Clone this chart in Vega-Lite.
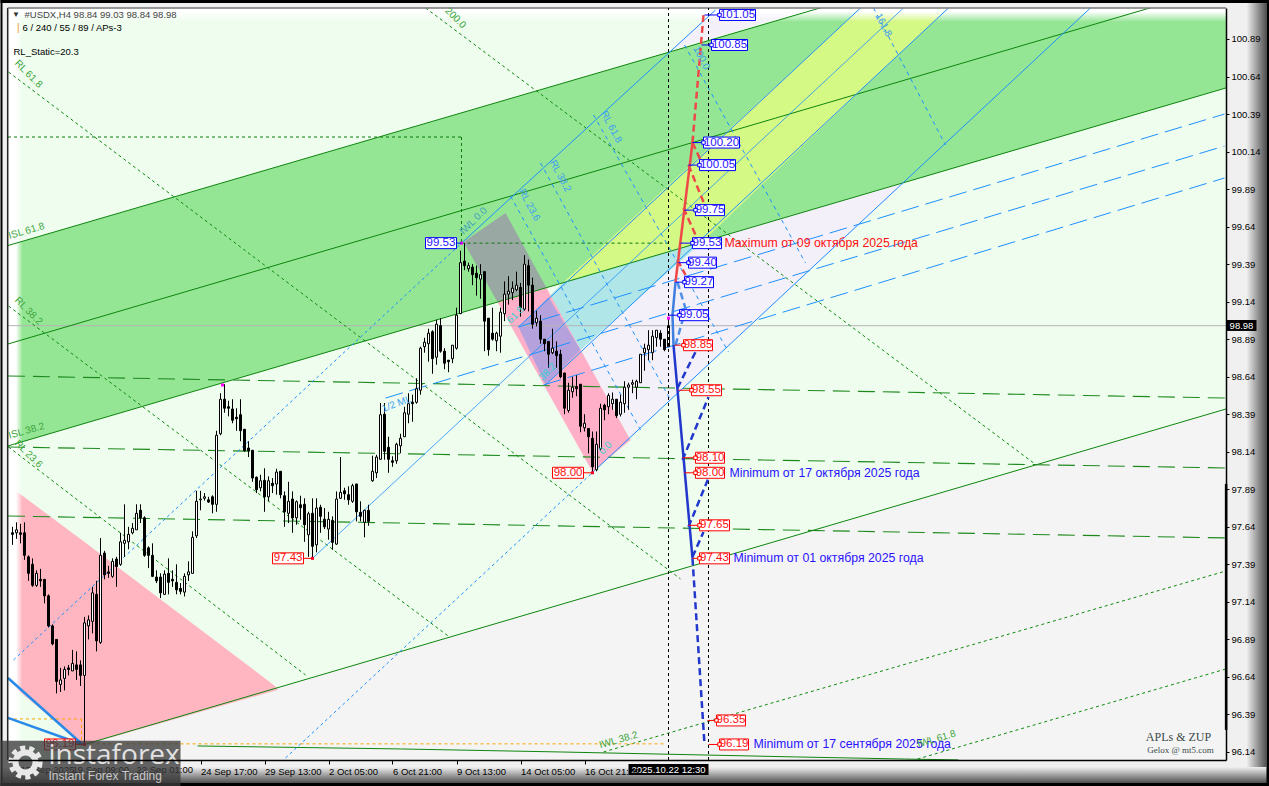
{"$schema":"https://vega.github.io/schema/vega-lite/v6.json","width":1218,"height":752,"autosize":"none","padding":{"left":8,"top":8,"right":43,"bottom":26},"background":"#f0f0f0","view":{"fill":"#eefdee","stroke":null},
"config":{"font":"Liberation Sans"},
"datasets":{
"frame":[{"g":"blk","x":0,"x2":0.5,"p":95.914,"p2":101.15},{"g":"blk","x":316.5,"x2":317.25,"p":95.914,"p2":101.15},{"g":"blk","x":0,"x2":317.25,"p":101.13,"p2":101.15},{"g":"blk","x":0,"x2":317.25,"p":95.914,"p2":95.934}],
"grads":[{"g":"r","x":311.5,"x2":316.5,"p":95.914,"p2":101.15}],
"gradb":[{"x":0,"x2":317.25,"p":95.934,"p2":96.04}],
"fadel":[{"x":1.875,"x2":5.5,"p":96.0865,"p2":101.0965}],
"fadet":[{"x":1.875,"x2":306.375,"p":101.003,"p2":101.0965}],
"areas":[
{"g":"green","x":1.875,"p":99.514,"p2":98.179},{"g":"green","x":306.5,"p":101.889,"p2":100.564},
{"g":"grey","x":21,"p":96.19,"p2":96.0865},{"g":"grey","x":306.5,"p":98.425,"p2":96.0865},
{"g":"pinktri","x":1.875,"p":97.919,"p2":96.606},{"g":"pinktri","x":21,"p":97.539,"p2":96.187},{"g":"pinktri","x":69.25,"p":96.567,"p2":96.553},
{"g":"lavtop","x":167.5,"p":100.817,"p2":100.817},{"g":"lavtop","x":179.25,"p":101.097,"p2":100.909},{"g":"lavtop","x":203.75,"p":101.097,"p2":101.097},
{"g":"lav","x":145,"p":98.818,"p2":98.818},{"g":"lav","x":157.5,"p":99.114,"p2":98.232},{"g":"lav","x":175.5,"p":99.54,"p2":98.679},{"g":"lav","x":226.25,"p":99.937,"p2":99.937},
{"g":"cyan","x":137,"p":99.171,"p2":99.171},{"g":"cyan","x":140.75,"p":99.271,"p2":99.005},{"g":"cyan","x":145,"p":99.3,"p2":98.818},{"g":"cyan","x":175.5,"p":99.54,"p2":99.54},
{"g":"yellow","x":140.75,"p":99.271,"p2":99.271},{"g":"yellow","x":175.5,"p":100.125,"p2":99.54},{"g":"yellow","x":215,"p":101.097,"p2":100.546},{"g":"yellow","x":237,"p":101.097,"p2":101.097},
{"g":"pink","x":124.25,"p":99.138,"p2":99.138},{"g":"pink","x":136.5,"p":99.231,"p2":98.554},{"g":"pink","x":148,"p":98.677,"p2":98.005},{"g":"pink","x":157.5,"p":98.219,"p2":98.219},
{"g":"boxgrey","x":115.75,"p":99.538,"p2":99.538},{"g":"boxgrey","x":124.25,"p":99.694,"p2":99.138},{"g":"boxgrey","x":126.25,"p":99.731,"p2":99.153},{"g":"boxgrey","x":136.5,"p":99.231,"p2":99.231},
{"g":"purple","x":129.5,"p":98.972,"p2":98.972},{"g":"purple","x":136.25,"p":99.151,"p2":98.585},{"g":"purple","x":137,"p":99.171,"p2":98.605},{"g":"purple","x":145,"p":98.818,"p2":98.818}
],
"lines":[
{"s":"g","id":"u","x":1.875,"p":99.514},{"s":"g","id":"u","x":306.5,"p":101.889},
{"s":"g","id":"l","x":1.875,"p":98.179},{"s":"g","id":"l","x":306.375,"p":100.564},
{"s":"g","id":"m","x":1.875,"p":98.858},{"s":"g","id":"m","x":306.5,"p":101.247},
{"s":"g","id":"b","x":21,"p":96.19},{"s":"g","id":"b","x":306.375,"p":98.425},
{"s":"g","id":"c","x":49.25,"p":96.18},{"s":"g","id":"c","x":100,"p":96.16},{"s":"g","id":"c","x":140,"p":96.14},{"s":"g","id":"c","x":198.75,"p":96.107},{"s":"g","id":"c","x":226,"p":96.093},{"s":"g","id":"c","x":239.5,"p":96.087},
{"s":"gl","id":"1","x":1.875,"p":98.645},{"s":"gl","id":"1","x":306.375,"p":98.498},
{"s":"gl","id":"2","x":1.875,"p":98.172},{"s":"gl","id":"2","x":306.375,"p":98.032},
{"s":"gl","id":"3","x":1.875,"p":97.712},{"s":"gl","id":"3","x":306.375,"p":97.566},
{"s":"gs","id":"a","x":1.875,"p":100.237},{"s":"gs","id":"a","x":115.25,"p":100.237},
{"s":"gs","id":"v","x":115.25,"p":100.237},{"s":"gs","id":"v","x":115.25,"p":99.53},
{"s":"gs","id":"b","x":115.25,"p":99.53},{"s":"gs","id":"b","x":167,"p":99.53},
{"s":"gd","id":"1","x":2,"p":100.67},{"s":"gd","id":"1","x":170,"p":97.293},
{"s":"gd","id":"2","x":2,"p":99.111},{"s":"gd","id":"2","x":112.25,"p":96.906},
{"s":"gd","id":"3","x":2,"p":98.172},{"s":"gd","id":"3","x":76.25,"p":96.653},
{"s":"gd","id":"4","x":106.25,"p":101.097},{"s":"gd","id":"4","x":258.25,"p":98.066},
{"s":"gd","id":"5","x":150.75,"p":96.14},{"s":"gd","id":"5","x":306.375,"p":97.346},
{"s":"gd","id":"6","x":229.25,"p":96.093},{"s":"gd","id":"6","x":306.375,"p":96.693},
{"s":"b","id":"A","x":115.25,"p":99.53},{"s":"b","id":"A","x":178.75,"p":101.083},
{"s":"b","id":"B","x":129.5,"p":98.972},{"s":"b","id":"B","x":215,"p":101.097},
{"s":"bt","id":"C","x":78,"p":97.43},{"s":"bt","id":"C","x":225.75,"p":101.097},
{"s":"b","id":"D","x":136.25,"p":98.585},{"s":"b","id":"D","x":237,"p":101.097},
{"s":"b","id":"E","x":149.5,"p":98.039},{"s":"b","id":"E","x":272.5,"p":101.097},
{"s":"bd","id":"1","x":3.25,"p":96.753},{"s":"bd","id":"1","x":115.25,"p":99.53},
{"s":"bd","id":"2","x":71.25,"p":96.1},{"s":"bd","id":"2","x":149.5,"p":98.039},
{"s":"bl","id":"1","x":129.5,"p":98.972},{"s":"bl","id":"1","x":306,"p":100.39},
{"s":"bl","id":"2","x":96.25,"p":98.498},{"s":"bl","id":"2","x":306,"p":100.177},
{"s":"bl","id":"3","x":135.75,"p":98.585},{"s":"bl","id":"3","x":306,"p":99.964},
{"s":"bf","id":"1","x":127.5,"p":99.844},{"s":"bf","id":"1","x":160,"p":98.285},
{"s":"bf","id":"2","x":135,"p":100.064},{"s":"bf","id":"2","x":167.5,"p":98.485},
{"s":"bf","id":"3","x":148.25,"p":100.384},{"s":"bf","id":"3","x":182,"p":98.805},
{"s":"bf","id":"4","x":171,"p":100.85},{"s":"bf","id":"4","x":201.25,"p":99.398},
{"s":"bf","id":"5","x":218.25,"p":101.097},{"s":"bf","id":"5","x":236.25,"p":100.184},
{"s":"o","id":"1","x":1.875,"p":96.36},{"s":"o","id":"1","x":20.25,"p":96.36},
{"s":"o","id":"2","x":20.25,"p":96.36},{"s":"o","id":"2","x":20.25,"p":96.19},
{"s":"o","id":"3","x":21,"p":96.194},{"s":"o","id":"3","x":166,"p":96.194},
{"s":"tb","id":"1","x":1.875,"p":96.633},{"s":"tb","id":"1","x":20.5,"p":96.19},
{"s":"tb","id":"2","x":1.875,"p":96.367},{"s":"tb","id":"2","x":20.5,"p":96.19},
{"s":"gp","id":"1","x":1.875,"p":98.98},{"s":"gp","id":"1","x":306.375,"p":98.98},
{"s":"ax","id":"1","x":306.4,"p":97.926},{"s":"ax","id":"1","x":306.4,"p":96.287},
{"s":"fl","id":"1","x":1.8,"p":96.0865},{"s":"fl","id":"1","x":1.8,"p":101.0965},
{"s":"ft","id":"1","x":1.8,"p":101.0965},{"s":"ft","id":"1","x":306.375,"p":101.0965}
],
"vert":[{"s":"v","id":"1","x":167,"p":96.0865},{"s":"v","id":"1","x":167,"p":101.0965},{"s":"v","id":"2","x":177,"p":96.0865},{"s":"v","id":"2","x":177,"p":101.0965}],
"zig":[
{"s":"r","id":"1","x":168.75,"p":99.27},{"s":"r","id":"1","x":173,"p":100.2},
{"s":"rd","id":"1","x":173,"p":100.2},{"s":"rd","id":"1","x":175.75,"p":101.05},
{"s":"rd","id":"2","x":173,"p":100.2},{"s":"rd","id":"2","x":175,"p":100.084},
{"s":"rd","id":"3","x":172,"p":100.05},{"s":"rd","id":"3","x":175.75,"p":99.804},
{"s":"rd","id":"4","x":170.75,"p":99.764},{"s":"rd","id":"4","x":173.75,"p":99.585},
{"s":"rd","id":"5","x":169.25,"p":99.418},{"s":"rd","id":"5","x":171.25,"p":99.318},
{"s":"lb","id":"1","x":168.75,"p":99.27},{"s":"lb","id":"1","x":168,"p":99.05},{"s":"lb","id":"1","x":168.25,"p":98.85},
{"s":"lbd","id":"1","x":168.75,"p":98.85},{"s":"lbd","id":"1","x":171.25,"p":99.085},
{"s":"lbd","id":"2","x":169.25,"p":99.27},{"s":"lbd","id":"2","x":171.75,"p":99.05},
{"s":"db","id":"1","x":168.25,"p":98.85},{"s":"db","id":"1","x":173,"p":97.43},
{"s":"dbd","id":"1","x":173,"p":97.43},{"s":"dbd","id":"1","x":176,"p":96.19},
{"s":"dbd","id":"2","x":169.25,"p":98.565},{"s":"dbd","id":"2","x":173.75,"p":98.805},
{"s":"dbd","id":"3","x":170.5,"p":98.085},{"s":"dbd","id":"3","x":177,"p":98.505},
{"s":"dbd","id":"4","x":172,"p":97.64},{"s":"dbd","id":"4","x":177,"p":97.965},
{"s":"dbd","id":"5","x":173,"p":97.44},{"s":"dbd","id":"5","x":175.75,"p":97.606}
],
"candles":[
{"x":3,"o":97.6,"h":97.64,"l":97.52,"c":97.59},{"x":4,"o":97.6,"h":97.67,"l":97.56,"c":97.62},{"x":5,"o":97.6,"h":97.66,"l":97.53,"c":97.59},{"x":6,"o":97.6,"h":97.67,"l":97.42,"c":97.45},{"x":7,"o":97.44,"h":97.45,"l":97.28,"c":97.33},{"x":8,"o":97.39,"h":97.43,"l":97.24,"c":97.25},{"x":9,"o":97.25,"h":97.35,"l":97.24,"c":97.33},{"x":10,"o":97.29,"h":97.36,"l":97.24,"c":97.28},{"x":11,"o":97.29,"h":97.29,"l":97.13,"c":97.18},{"x":12,"o":97.18,"h":97.19,"l":96.97,"c":96.98},
{"x":13,"o":96.98,"h":96.99,"l":96.85,"c":96.86},{"x":14,"o":96.89,"h":96.89,"l":96.53,"c":96.61},{"x":15,"o":96.59,"h":96.7,"l":96.54,"c":96.62},{"x":16,"o":96.63,"h":96.71,"l":96.55,"c":96.69},{"x":17,"o":96.7,"h":96.72,"l":96.65,"c":96.69},{"x":18,"o":96.68,"h":96.82,"l":96.68,"c":96.73},{"x":19,"o":96.72,"h":96.81,"l":96.62,"c":96.69},{"x":20,"o":96.72,"h":96.75,"l":96.58,"c":96.65},{"x":21,"o":96.65,"h":97.04,"l":96.19,"c":97.0},{"x":22,"o":96.98,"h":97.05,"l":96.89,"c":97.02},
{"x":23,"o":97.01,"h":97.24,"l":96.93,"c":97.2},{"x":24,"o":97.19,"h":97.28,"l":96.81,"c":96.88},{"x":25,"o":96.87,"h":97.565,"l":96.86,"c":97.45},{"x":26,"o":97.465,"h":97.48,"l":97.29,"c":97.32},{"x":27,"o":97.34,"h":97.38,"l":97.3,"c":97.33},{"x":28,"o":97.31,"h":97.43,"l":97.3,"c":97.41},{"x":29,"o":97.425,"h":97.44,"l":97.24,"c":97.375},{"x":30,"o":97.39,"h":97.6,"l":97.38,"c":97.54},{"x":31,"o":97.53,"h":97.79,"l":97.44,"c":97.55},{"x":32,"o":97.54,"h":97.64,"l":97.49,"c":97.59},
{"x":33,"o":97.6,"h":97.665,"l":97.59,"c":97.63},{"x":34,"o":97.62,"h":97.79,"l":97.62,"c":97.73},{"x":35,"o":97.75,"h":97.79,"l":97.665,"c":97.7},{"x":36,"o":97.7,"h":97.71,"l":97.44,"c":97.45},{"x":37,"o":97.5,"h":97.51,"l":97.365,"c":97.45},{"x":38,"o":97.45,"h":97.53,"l":97.305,"c":97.31},{"x":39,"o":97.305,"h":97.35,"l":97.265,"c":97.28},{"x":40,"o":97.305,"h":97.33,"l":97.165,"c":97.2},{"x":41,"o":97.19,"h":97.35,"l":97.19,"c":97.325},{"x":42,"o":97.33,"h":97.43,"l":97.19,"c":97.27},
{"x":43,"o":97.29,"h":97.35,"l":97.24,"c":97.28},{"x":44,"o":97.27,"h":97.39,"l":97.19,"c":97.22},{"x":45,"o":97.23,"h":97.265,"l":97.19,"c":97.21},{"x":46,"o":97.205,"h":97.33,"l":97.176,"c":97.31},{"x":47,"o":97.32,"h":97.41,"l":97.28,"c":97.34},{"x":48,"o":97.33,"h":97.61,"l":97.33,"c":97.57},{"x":49,"o":97.58,"h":97.88,"l":97.565,"c":97.81},{"x":50,"o":97.82,"h":97.88,"l":97.75,"c":97.825},{"x":51,"o":97.83,"h":97.865,"l":97.815,"c":97.84},{"x":52,"o":97.82,"h":97.84,"l":97.8,"c":97.805},
{"x":53,"o":97.84,"h":97.85,"l":97.73,"c":97.79},{"x":54,"o":97.79,"h":98.28,"l":97.74,"c":98.25},{"x":55,"o":98.26,"h":98.53,"l":98.25,"c":98.49},{"x":56,"o":98.49,"h":98.59,"l":98.4,"c":98.43},{"x":57,"o":98.44,"h":98.48,"l":98.376,"c":98.43},{"x":58,"o":98.425,"h":98.49,"l":98.33,"c":98.35},{"x":59,"o":98.37,"h":98.43,"l":98.28,"c":98.36},{"x":60,"o":98.387,"h":98.49,"l":98.21,"c":98.28},{"x":61,"o":98.29,"h":98.29,"l":98.14,"c":98.147},{"x":62,"o":98.165,"h":98.21,"l":98.105,"c":98.147},
{"x":63,"o":98.15,"h":98.15,"l":97.94,"c":97.965},{"x":64,"o":97.97,"h":97.976,"l":97.865,"c":97.887},{"x":65,"o":97.9,"h":97.987,"l":97.876,"c":97.947},{"x":66,"o":97.95,"h":98.03,"l":97.74,"c":97.84},{"x":67,"o":97.84,"h":97.976,"l":97.81,"c":97.947},{"x":68,"o":97.93,"h":97.965,"l":97.865,"c":97.914},{"x":69,"o":97.925,"h":98.027,"l":97.854,"c":98.005},{"x":70,"o":98.01,"h":98.01,"l":97.83,"c":97.854},{"x":71,"o":97.847,"h":97.876,"l":97.64,"c":97.74},{"x":72,"o":97.73,"h":97.94,"l":97.665,"c":97.81},
{"x":73,"o":97.825,"h":97.876,"l":97.6,"c":97.7},{"x":74,"o":97.7,"h":97.816,"l":97.654,"c":97.807},{"x":75,"o":97.787,"h":97.847,"l":97.687,"c":97.767},{"x":76,"o":97.79,"h":97.83,"l":97.54,"c":97.654},{"x":77,"o":97.587,"h":97.74,"l":97.44,"c":97.727},{"x":78,"o":97.73,"h":97.83,"l":97.43,"c":97.51},{"x":79,"o":97.52,"h":97.83,"l":97.47,"c":97.765},{"x":80,"o":97.77,"h":97.787,"l":97.6,"c":97.71},{"x":81,"o":97.69,"h":97.765,"l":97.625,"c":97.64},{"x":82,"o":97.625,"h":97.74,"l":97.554,"c":97.69},
{"x":83,"o":97.683,"h":97.71,"l":97.487,"c":97.536},{"x":84,"o":97.525,"h":97.876,"l":97.52,"c":97.825},{"x":85,"o":97.83,"h":98.105,"l":97.825,"c":97.87},{"x":86,"o":97.88,"h":97.9,"l":97.82,"c":97.86},{"x":87,"o":97.854,"h":97.91,"l":97.787,"c":97.82},{"x":88,"o":97.81,"h":97.927,"l":97.8,"c":97.914},{"x":89,"o":97.925,"h":97.927,"l":97.676,"c":97.74},{"x":90,"o":97.736,"h":97.81,"l":97.676,"c":97.71},{"x":91,"o":97.67,"h":97.754,"l":97.57,"c":97.75},{"x":92,"o":97.75,"h":97.787,"l":97.647,"c":97.676},
{"x":93,"o":97.947,"h":98.114,"l":97.94,"c":98.01},{"x":94,"o":98.0,"h":98.12,"l":97.965,"c":98.105},{"x":95,"o":98.09,"h":98.465,"l":98.087,"c":98.387},{"x":96,"o":98.39,"h":98.465,"l":98.087,"c":98.143},{"x":97,"o":98.17,"h":98.24,"l":98.0,"c":98.09},{"x":98,"o":98.08,"h":98.11,"l":98.04,"c":98.07},{"x":99,"o":98.08,"h":98.2,"l":98.06,"c":98.19},{"x":100,"o":98.18,"h":98.26,"l":98.13,"c":98.23},{"x":101,"o":98.24,"h":98.44,"l":98.24,"c":98.4},{"x":102,"o":98.39,"h":98.53,"l":98.33,"c":98.46},
{"x":103,"o":98.47,"h":98.52,"l":98.34,"c":98.46},{"x":104,"o":98.47,"h":98.63,"l":98.46,"c":98.56},{"x":105,"o":98.55,"h":98.84,"l":98.52,"c":98.83},{"x":106,"o":98.84,"h":98.9,"l":98.8,"c":98.87},{"x":107,"o":98.86,"h":98.96,"l":98.74,"c":98.93},{"x":108,"o":98.94,"h":98.95,"l":98.66,"c":98.76},{"x":109,"o":98.77,"h":99.02,"l":98.72,"c":98.99},{"x":110,"o":98.98,"h":99.03,"l":98.8,"c":98.81},{"x":111,"o":98.81,"h":98.83,"l":98.69,"c":98.73},{"x":112,"o":98.75,"h":98.75,"l":98.67,"c":98.74},
{"x":113,"o":98.76,"h":98.85,"l":98.73,"c":98.85},{"x":114,"o":98.83,"h":99.1,"l":98.82,"c":99.05},{"x":115,"o":99.06,"h":99.48,"l":99.06,"c":99.4},{"x":116,"o":99.41,"h":99.53,"l":99.35,"c":99.38},{"x":117,"o":99.36,"h":99.4,"l":99.34,"c":99.38},{"x":118,"o":99.37,"h":99.39,"l":99.25,"c":99.32},{"x":119,"o":99.33,"h":99.38,"l":99.18,"c":99.3},{"x":120,"o":99.29,"h":99.39,"l":99.16,"c":99.32},{"x":121,"o":99.34,"h":99.34,"l":98.81,"c":99.01},{"x":122,"o":99.03,"h":99.03,"l":98.78,"c":98.82},
{"x":123,"o":98.93,"h":99.1,"l":98.88,"c":98.89},{"x":124,"o":98.88,"h":98.94,"l":98.81,"c":98.93},{"x":125,"o":98.91,"h":99.1,"l":98.8,"c":99.07},{"x":126,"o":99.06,"h":99.275,"l":99.01,"c":99.19},{"x":127,"o":99.19,"h":99.31,"l":99.12,"c":99.21},{"x":128,"o":99.2,"h":99.275,"l":99.15,"c":99.23},{"x":129,"o":99.22,"h":99.34,"l":99.21,"c":99.25},{"x":130,"o":99.235,"h":99.265,"l":99.04,"c":99.1},{"x":131,"o":99.09,"h":99.45,"l":99.08,"c":99.39},{"x":132,"o":99.38,"h":99.42,"l":99.075,"c":99.25},
{"x":133,"o":99.25,"h":99.3,"l":98.96,"c":98.99},{"x":134,"o":99.0,"h":99.08,"l":98.975,"c":99.03},{"x":135,"o":99.01,"h":99.05,"l":98.86,"c":98.89},{"x":136,"o":98.89,"h":98.89,"l":98.81,"c":98.86},{"x":137,"o":98.875,"h":98.875,"l":98.7,"c":98.79},{"x":138,"o":98.8,"h":98.96,"l":98.79,"c":98.83},{"x":139,"o":98.81,"h":98.875,"l":98.7,"c":98.78},{"x":140,"o":98.79,"h":98.82,"l":98.63,"c":98.64},{"x":141,"o":98.665,"h":98.665,"l":98.39,"c":98.43},{"x":142,"o":98.415,"h":98.6,"l":98.4,"c":98.55},
{"x":143,"o":98.54,"h":98.64,"l":98.5,"c":98.57},{"x":144,"o":98.575,"h":98.65,"l":98.51,"c":98.56},{"x":145,"o":98.59,"h":98.59,"l":98.27,"c":98.31},{"x":146,"o":98.3,"h":98.39,"l":98.275,"c":98.33},{"x":147,"o":98.295,"h":98.295,"l":98.13,"c":98.24},{"x":148,"o":98.23,"h":98.275,"l":98.0,"c":98.04},{"x":149,"o":98.02,"h":98.275,"l":98.01,"c":98.19},{"x":150,"o":98.16,"h":98.46,"l":98.15,"c":98.43},{"x":151,"o":98.45,"h":98.46,"l":98.35,"c":98.42},{"x":152,"o":98.44,"h":98.53,"l":98.39,"c":98.515},
{"x":153,"o":98.46,"h":98.535,"l":98.42,"c":98.49},{"x":154,"o":98.49,"h":98.49,"l":98.365,"c":98.38},{"x":155,"o":98.39,"h":98.52,"l":98.375,"c":98.47},{"x":156,"o":98.46,"h":98.61,"l":98.4,"c":98.57},{"x":157,"o":98.57,"h":98.6,"l":98.42,"c":98.585},{"x":158,"o":98.59,"h":98.62,"l":98.53,"c":98.6},{"x":159,"o":98.57,"h":98.62,"l":98.49,"c":98.61},{"x":160,"o":98.6,"h":98.79,"l":98.6,"c":98.79},{"x":161,"o":98.8,"h":98.86,"l":98.68,"c":98.83},{"x":162,"o":98.82,"h":98.95,"l":98.75,"c":98.85},
{"x":163,"o":98.8,"h":98.95,"l":98.75,"c":98.91},{"x":164,"o":98.9,"h":98.95,"l":98.84,"c":98.95},{"x":165,"o":98.93,"h":98.95,"l":98.84,"c":98.89},{"x":166,"o":98.89,"h":98.89,"l":98.81,"c":98.82},{"x":167,"o":98.84,"h":99.03,"l":98.84,"c":98.98}
],
"dotsm":[{"x":55.5,"p":98.585},{"x":115.25,"p":99.53},{"x":167,"p":99.03}],
"dotsr":[{"x":78,"p":97.43},{"x":148,"p":98.0},{"x":21,"p":96.19}],
"conn":[
{"c":"b","p":101.05,"x":176,"x2":179.75},{"c":"b","p":100.85,"x":175.25,"x2":177.75},{"c":"b","p":100.2,"x":173,"x2":175.75},{"c":"b","p":100.05,"x":172,"x2":174.75},{"c":"b","p":99.75,"x":171,"x2":173.75},{"c":"b","p":99.53,"x":170,"x2":173},{"c":"b","p":99.4,"x":169.5,"x2":172},{"c":"b","p":99.27,"x":168.75,"x2":171},{"c":"b","p":99.05,"x":167,"x2":169.75},
{"c":"r","p":98.85,"x":168.5,"x2":170.75},{"c":"r","p":98.55,"x":169.5,"x2":172.75},{"c":"r","p":98.1,"x":170.5,"x2":173.75},{"c":"r","p":98.0,"x":171,"x2":173.75},{"c":"r","p":97.65,"x":172,"x2":174.75},{"c":"r","p":97.43,"x":173,"x2":174.75},{"c":"r","p":96.35,"x":176.75,"x2":179},{"c":"r","p":96.19,"x":177,"x2":179.75},
{"c":"b","p":99.53,"x":114,"x2":115.25},{"c":"r","p":98.0,"x":145.75,"x2":148},{"c":"r","p":97.43,"x":75.75,"x2":78},{"c":"r","p":96.19,"x":18.75,"x2":21}
],
"boxes":[
{"c":"b","k":1,"p":101.05,"x":179.75,"x2":188.75},{"c":"b","k":1,"p":100.85,"x":177.75,"x2":186.75},{"c":"b","k":1,"p":100.2,"x":175.75,"x2":184.75},{"c":"b","k":1,"p":100.05,"x":174.75,"x2":183.75},{"c":"b","k":1,"p":99.75,"x":173.75,"x2":181},{"c":"b","k":1,"p":99.53,"x":173,"x2":180.25},{"c":"b","k":1,"p":99.4,"x":172,"x2":179},{"c":"b","k":1,"p":99.27,"x":171,"x2":178.25},{"c":"b","k":1,"p":99.05,"x":169.75,"x2":177},
{"c":"r","k":1,"p":98.85,"x":170.75,"x2":178},{"c":"r","k":1,"p":98.55,"x":172.75,"x2":180.25},{"c":"r","k":1,"p":98.1,"x":173.75,"x2":181},{"c":"r","k":1,"p":98.0,"x":173.75,"x2":181},{"c":"r","k":1,"p":97.65,"x":174.75,"x2":182.25},{"c":"r","k":1,"p":97.43,"x":174.75,"x2":182.25},{"c":"r","k":1,"p":96.35,"x":179,"x2":186.25},{"c":"r","k":1,"p":96.19,"x":179.75,"x2":187},
{"c":"b","k":0,"p":99.53,"x":106.25,"x2":114},{"c":"r","k":0,"p":98.0,"x":138,"x2":145.75},{"c":"r","k":0,"p":97.43,"x":68,"x2":75.75},{"c":"r","k":0,"p":96.19,"x":11,"x2":18.75}
],
"blabels":[
{"c":"b","t":"101.05","p":101.05,"x":184.25},{"c":"b","t":"100.85","p":100.85,"x":182.25},{"c":"b","t":"100.20","p":100.2,"x":180.25},{"c":"b","t":"100.05","p":100.05,"x":179.25},{"c":"b","t":"99.75","p":99.75,"x":177.4},{"c":"b","t":"99.53","p":99.53,"x":176.6},{"c":"b","t":"99.40","p":99.4,"x":175.5},{"c":"b","t":"99.27","p":99.27,"x":174.6},{"c":"b","t":"99.05","p":99.05,"x":173.4},
{"c":"r","t":"98.85","p":98.85,"x":174.4},{"c":"r","t":"98.55","p":98.55,"x":176.5},{"c":"r","t":"98.10","p":98.1,"x":177.4},{"c":"r","t":"98.00","p":98.0,"x":177.4},{"c":"r","t":"97.65","p":97.65,"x":178.5},{"c":"r","t":"97.43","p":97.43,"x":178.5},{"c":"r","t":"96.35","p":96.35,"x":182.6},{"c":"r","t":"96.19","p":96.19,"x":183.4},
{"c":"b","t":"99.53","p":99.53,"x":110.1},{"c":"r","t":"98.00","p":98.0,"x":141.9},{"c":"r","t":"97.43","p":97.43,"x":71.9},{"c":"r","t":"96.19","p":96.19,"x":14.9}
],
"notes":[{"c":"r","t":"Maximum от 09 октября 2025 года","x":181,"p":99.53},{"c":"b","t":"Minimum от 17 октября 2025 года","x":182.25,"p":98.0},{"c":"b","t":"Minimum от 01 октября 2025 года","x":183.25,"p":97.43},{"c":"b","t":"Minimum от 17 сентября 2025 года","x":188.25,"p":96.19}],
"tg16":[{"t":"ISL 61.8","x":6.5,"p":99.611},{"t":"ISL 38.2","x":6.5,"p":98.279},{"t":"IWL 38.2","x":154.5,"p":96.22},{"t":"IWL 61.8","x":234,"p":96.227}],
"tg45":[{"t":"RL 61.8","x":7,"p":100.657},{"t":"RL 38.2","x":7,"p":99.078},{"t":"RL 23.6","x":7,"p":98.125},{"t":"200.0","x":113.75,"p":101.03}],
"tb62":[{"t":"RL 61.8","x":152.75,"p":100.304},{"t":"RL 38.2","x":140,"p":99.977},{"t":"RL 23.6","x":132.25,"p":99.784},{"t":"100.0","x":175.25,"p":100.764},{"t":"161.8","x":220.75,"p":100.983}],
"tb45":[{"t":"IWL 0.0","x":118.25,"p":99.678}],
"tb20":[{"t":"1/2 ML","x":99,"p":98.459}],
"tc45":[{"t":"61.8","x":128.75,"p":99.052},{"t":"38.2","x":136.75,"p":98.672},{"t":"0.0","x":151.25,"p":98.165}],
"head1":[{"t":"▼","x":2.9,"p":101.05}],
"head2":[{"t":"#USDX,H4  98.84 99.03 98.84 98.98","x":6,"p":101.05}],
"head3":[{"t":"6 / 240 / 55 / 89 / APs-3","x":5.5,"p":100.963},{"t":"RL_Static=20.3","x":3.25,"p":100.804}],
"head4":[{"t":"|","x":4.1,"p":100.963}],
"sign1":[{"t":"APLs & ZUP","x":294.5,"p":96.24}],
"sign2":[{"t":"Gelox @ mt5.com","x":295,"p":96.153}],
"pbox":[{"x":306.5,"x2":314,"p":98.945,"p2":99.018}],
"ptext":[{"t":"98.98","x":310.25,"p":98.98}],
"tbox":[{"x":157,"x2":177,"p":95.987,"p2":96.06}],
"ttext":[{"t":"2025.10.22 12:30","x":167,"p":96.023}],
"xlow":[{"t":"17 Sep 2025","x":5,"p":96.023},{"t":"19 Sep 09:00","x":18,"p":96.023},{"t":"22 Sep 01:00","x":34,"p":96.023}],
"logo":[{"x":0,"x2":45,"p":95.914,"p2":96.214}],
"logo1":[{"t":"instaforex","x":12,"p":96.11}],
"logo2":[{"t":"Instant Forex Trading","x":12,"p":95.98}],
"gear":[{"x":6.25,"p":96.07}]
},
"encoding":{
"x":{"field":"x","type":"quantitative","scale":{"domain":[1.875,306.375],"nice":false,"zero":false},"axis":{"title":null,"grid":false,"zindex":1,"values":[50,66,82,98,114,130,146],"labelExpr":"{'50':'24 Sep 17:00','66':'29 Sep 13:00','82':'2 Oct 05:00','98':'6 Oct 21:00','114':'9 Oct 13:00','130':'14 Oct 05:00','146':'16 Oct 21:00'}[datum.value]","labelAlign":"left","labelFlush":false,"labelOverlap":false,"labelFontSize":9.5,"labelColor":"#000","labelPadding":2,"tickColor":"#000","tickSize":4,"domainColor":"#000","domainWidth":1.5}},
"y":{"field":"p","type":"quantitative","scale":{"domain":[96.0865,101.0965],"nice":false,"zero":false},"axis":{"title":null,"grid":false,"zindex":1,"orient":"right","values":[96.14,96.39,96.64,96.89,97.14,97.39,97.64,97.89,98.14,98.39,98.64,98.89,99.14,99.39,99.64,99.89,100.14,100.39,100.64,100.89],"format":".2f","labelFontSize":9.5,"labelColor":"#000","labelPadding":2,"labelOverlap":false,"tickColor":"#000","tickSize":3,"domainColor":"#000","domainWidth":1.5}}
},
"layer":[
{"data":{"name":"grads"},"mark":{"type":"rect","color":{"gradient":"linear","x1":0,"x2":1,"y1":0,"y2":0,"stops":[{"offset":0,"color":"#f0f0f0"},{"offset":1,"color":"#505050"}]}},"encoding":{"x2":{"field":"x2"},"y2":{"field":"p2"}}},
{"data":{"name":"gradb"},"mark":{"type":"rect","color":{"gradient":"linear","x1":0,"x2":0,"y1":0,"y2":1,"stops":[{"offset":0,"color":"#f0f0f0"},{"offset":1,"color":"#505050"}]}},"encoding":{"x2":{"field":"x2"},"y2":{"field":"p2"}}},
{"data":{"name":"frame"},"mark":{"type":"rect","color":"#000"},"encoding":{"x2":{"field":"x2"},"y2":{"field":"p2"}}},
{"data":{"name":"areas"},"mark":{"type":"area","clip":true,"opacity":1},"encoding":{"y2":{"field":"p2"},"color":{"field":"g","type":"nominal","legend":null,"scale":{"domain":["green","grey","pinktri","lavtop","lav","cyan","yellow","pink","boxgrey","purple"],"range":["#94e594","#f4f4f4","#ffb6c1","#f3f0fa","#f3f0fa","#b0e6e8","#d4f984","#ffb0c8","#9aa8a4","#b5a2dc"]}}}},
{"data":{"name":"fadel"},"mark":{"type":"rect","color":{"gradient":"linear","x1":0,"x2":1,"y1":0,"y2":0,"stops":[{"offset":0,"color":"rgba(255,255,255,1)"},{"offset":0.55,"color":"rgba(255,255,255,1)"},{"offset":1,"color":"rgba(255,255,255,0)"}]}},"encoding":{"x2":{"field":"x2"},"y2":{"field":"p2"}}},
{"data":{"name":"fadet"},"mark":{"type":"rect","color":{"gradient":"linear","x1":0,"x2":0,"y1":0,"y2":1,"stops":[{"offset":0,"color":"rgba(255,255,255,1)"},{"offset":0.25,"color":"rgba(255,255,255,1)"},{"offset":1,"color":"rgba(255,255,255,0)"}]}},"encoding":{"x2":{"field":"x2"},"y2":{"field":"p2"}}},
{"data":{"name":"lines"},"transform":[{"filter":"datum.s=='gp'"}],"mark":{"type":"line","color":"#b4b4b4","strokeWidth":1},"encoding":{"detail":{"field":"id"}}},
{"data":{"name":"lines"},"transform":[{"filter":"datum.s=='g'"}],"mark":{"type":"line","color":"#0e860e","strokeWidth":1,"clip":true},"encoding":{"detail":{"field":"id"}}},
{"data":{"name":"lines"},"transform":[{"filter":"datum.s=='gl'"}],"mark":{"type":"line","color":"#1e8a1e","strokeWidth":1.1,"strokeDash":[17,8]},"encoding":{"detail":{"field":"id"}}},
{"data":{"name":"lines"},"transform":[{"filter":"datum.s=='gs'"}],"mark":{"type":"line","color":"#0b7a0b","strokeWidth":1,"strokeDash":[3,3]},"encoding":{"detail":{"field":"id"},"order":{"value":null}}},
{"data":{"name":"lines"},"transform":[{"filter":"datum.s=='gd'"}],"mark":{"type":"line","color":"#0f8a0f","strokeWidth":1,"strokeDash":[3,3]},"encoding":{"detail":{"field":"id"}}},
{"data":{"name":"lines"},"transform":[{"filter":"datum.s=='b'"}],"mark":{"type":"line","color":"#1e90ff","strokeWidth":1},"encoding":{"detail":{"field":"id"}}},
{"data":{"name":"lines"},"transform":[{"filter":"datum.s=='bt'"}],"mark":{"type":"line","color":"#1e90ff","strokeWidth":0.8},"encoding":{"detail":{"field":"id"}}},
{"data":{"name":"lines"},"transform":[{"filter":"datum.s=='bd'"}],"mark":{"type":"line","color":"#1e90ff","strokeWidth":1,"strokeDash":[3,3]},"encoding":{"detail":{"field":"id"}}},
{"data":{"name":"lines"},"transform":[{"filter":"datum.s=='bl'"}],"mark":{"type":"line","color":"#1e90ff","strokeWidth":1,"strokeDash":[18,7]},"encoding":{"detail":{"field":"id"}}},
{"data":{"name":"lines"},"transform":[{"filter":"datum.s=='bf'"}],"mark":{"type":"line","color":"#1e90ff","strokeWidth":1,"strokeDash":[4,4]},"encoding":{"detail":{"field":"id"}}},
{"data":{"name":"lines"},"transform":[{"filter":"datum.s=='o'"}],"mark":{"type":"line","color":"#ffa500","strokeWidth":1,"strokeDash":[3,3]},"encoding":{"detail":{"field":"id"},"order":{"value":null}}},
{"data":{"name":"lines"},"transform":[{"filter":"datum.s=='tb'"}],"mark":{"type":"line","color":"#2a8ae8","strokeWidth":2.5},"encoding":{"detail":{"field":"id"}}},
{"data":{"name":"lines"},"transform":[{"filter":"datum.s=='ax'"}],"mark":{"type":"line","color":"#000","strokeWidth":2.5},"encoding":{"order":{"value":null}}},
{"data":{"name":"lines"},"transform":[{"filter":"datum.s=='fl'"}],"mark":{"type":"line","color":"#222","strokeWidth":1.5},"encoding":{"order":{"value":null}}},
{"data":{"name":"lines"},"transform":[{"filter":"datum.s=='ft'"}],"mark":{"type":"line","color":"#777","strokeWidth":1.5},"encoding":{"order":{"value":null}}},
{"data":{"name":"candles"},"mark":{"type":"rule","color":"#000","strokeWidth":1},"encoding":{"y":{"field":"l","type":"quantitative","axis":{"title":null,"grid":false,"zindex":1,"orient":"right","values":[96.14,96.39,96.64,96.89,97.14,97.39,97.64,97.89,98.14,98.39,98.64,98.89,99.14,99.39,99.64,99.89,100.14,100.39,100.64,100.89],"format":".2f","labelFontSize":9.5,"labelColor":"#000","labelPadding":2,"labelOverlap":false,"tickColor":"#000","tickSize":3,"domainColor":"#000","domainWidth":1.5}},"y2":{"field":"h"}}},
{"data":{"name":"candles"},"mark":{"type":"rect","width":2,"stroke":"#000","strokeWidth":1},"encoding":{"y":{"field":"o","type":"quantitative","axis":{"title":null,"grid":false,"zindex":1,"orient":"right","values":[96.14,96.39,96.64,96.89,97.14,97.39,97.64,97.89,98.14,98.39,98.64,98.89,99.14,99.39,99.64,99.89,100.14,100.39,100.64,100.89],"format":".2f","labelFontSize":9.5,"labelColor":"#000","labelPadding":2,"labelOverlap":false,"tickColor":"#000","tickSize":3,"domainColor":"#000","domainWidth":1.5}},"y2":{"field":"c"},"fill":{"condition":{"test":"datum.c>=datum.o","value":"#ffffff"},"value":"#000000"}}},
{"data":{"name":"vert"},"mark":{"type":"line","color":"#000","strokeWidth":1,"strokeDash":[3,3]},"encoding":{"detail":{"field":"id"},"order":{"value":null}}},
{"data":{"name":"zig"},"transform":[{"filter":"datum.s=='r'"}],"mark":{"type":"line","color":"#ef4848","strokeWidth":2.5},"encoding":{"detail":{"field":"id"}}},
{"data":{"name":"zig"},"transform":[{"filter":"datum.s=='rd'"}],"mark":{"type":"line","color":"#ef4848","strokeWidth":2.5,"strokeDash":[7,4]},"encoding":{"detail":{"field":"id"}}},
{"data":{"name":"zig"},"transform":[{"filter":"datum.s=='lb'"}],"mark":{"type":"line","color":"#3f7fe0","strokeWidth":2.5},"encoding":{"detail":{"field":"id"},"order":{"value":null}}},
{"data":{"name":"zig"},"transform":[{"filter":"datum.s=='lbd'"}],"mark":{"type":"line","color":"#4f8fe8","strokeWidth":2.5,"strokeDash":[7,4]},"encoding":{"detail":{"field":"id"}}},
{"data":{"name":"zig"},"transform":[{"filter":"datum.s=='db'"}],"mark":{"type":"line","color":"#2238cc","strokeWidth":2.5},"encoding":{"detail":{"field":"id"}}},
{"data":{"name":"zig"},"transform":[{"filter":"datum.s=='dbd'"}],"mark":{"type":"line","color":"#2238cc","strokeWidth":2.5,"strokeDash":[7,4]},"encoding":{"detail":{"field":"id"}}},
{"data":{"name":"dotsm"},"mark":{"type":"point","shape":"square","filled":true,"color":"#ff00ff","size":9,"opacity":1}},
{"data":{"name":"dotsr"},"mark":{"type":"point","shape":"square","filled":true,"color":"#ff0033","size":9,"opacity":1}},
{"data":{"name":"conn"},"mark":{"type":"rule","strokeWidth":1},"encoding":{"x2":{"field":"x2"},"stroke":{"field":"c","type":"nominal","legend":null,"scale":{"domain":["b","r"],"range":["#0000ff","#ff0000"]}}}},
{"data":{"name":"boxes"},"mark":{"type":"rect","height":11,"fill":"#ffffff","strokeWidth":1},"encoding":{"x2":{"field":"x2"},"stroke":{"field":"c","type":"nominal","legend":null}}},
{"data":{"name":"boxes"},"transform":[{"filter":"datum.k==1"}],"mark":{"type":"point","shape":"square","size":12,"fill":"#ffffff","strokeWidth":1,"opacity":1},"encoding":{"stroke":{"field":"c","type":"nominal","legend":null}}},
{"data":{"name":"blabels"},"mark":{"type":"text","fontSize":11.5,"align":"center","baseline":"middle"},"encoding":{"text":{"field":"t"},"fill":{"field":"c","type":"nominal","legend":null,"scale":{"domain":["b","r"],"range":["#2a12ff","#ff1010"]}}}},
{"data":{"name":"notes"},"mark":{"type":"text","fontSize":12.3,"align":"left","baseline":"middle"},"encoding":{"text":{"field":"t"},"fill":{"field":"c","type":"nominal","legend":null}}},
{"data":{"name":"tg16"},"mark":{"type":"text","fontSize":10,"angle":344,"color":"#3ca53c","align":"center","baseline":"middle"},"encoding":{"text":{"field":"t"}}},
{"data":{"name":"tg45"},"mark":{"type":"text","fontSize":10,"angle":45,"color":"#3ca53c","align":"center","baseline":"middle"},"encoding":{"text":{"field":"t"}}},
{"data":{"name":"tb62"},"mark":{"type":"text","fontSize":10,"angle":62,"color":"#3ea0f0","align":"center","baseline":"middle"},"encoding":{"text":{"field":"t"}}},
{"data":{"name":"tb45"},"mark":{"type":"text","fontSize":10,"angle":315,"color":"#3ea0c0","align":"center","baseline":"middle"},"encoding":{"text":{"field":"t"}}},
{"data":{"name":"tb20"},"mark":{"type":"text","fontSize":10,"angle":340,"color":"#3ea0f0","align":"center","baseline":"middle"},"encoding":{"text":{"field":"t"}}},
{"data":{"name":"tc45"},"mark":{"type":"text","fontSize":10,"angle":315,"color":"#30d0d0","align":"center","baseline":"middle"},"encoding":{"text":{"field":"t"}}},
{"data":{"name":"head1"},"mark":{"type":"text","fontSize":8,"color":"#333","align":"left","baseline":"middle"},"encoding":{"text":{"field":"t"}}},
{"data":{"name":"head2"},"mark":{"type":"text","fontSize":9.5,"color":"#444","align":"left","baseline":"middle"},"encoding":{"text":{"field":"t"}}},
{"data":{"name":"head3"},"mark":{"type":"text","fontSize":9.5,"color":"#000","align":"left","baseline":"middle"},"encoding":{"text":{"field":"t"}}},
{"data":{"name":"head4"},"mark":{"type":"text","fontSize":10,"color":"#e8a020","align":"left","baseline":"middle"},"encoding":{"text":{"field":"t"}}},
{"data":{"name":"sign1"},"mark":{"type":"text","font":"Liberation Serif","fontSize":12,"color":"#3a4a4a","align":"center","baseline":"middle"},"encoding":{"text":{"field":"t"}}},
{"data":{"name":"sign2"},"mark":{"type":"text","font":"Liberation Serif","fontSize":9,"color":"#3a4a4a","align":"center","baseline":"middle"},"encoding":{"text":{"field":"t"}}},
{"data":{"name":"pbox"},"mark":{"type":"rect","color":"#000"},"encoding":{"x2":{"field":"x2"},"y2":{"field":"p2"}}},
{"data":{"name":"ptext"},"mark":{"type":"text","fontSize":9.5,"color":"#fff","align":"center","baseline":"middle"},"encoding":{"text":{"field":"t"}}},
{"data":{"name":"tbox"},"mark":{"type":"rect","color":"#000"},"encoding":{"x2":{"field":"x2"},"y2":{"field":"p2"}}},
{"data":{"name":"ttext"},"mark":{"type":"text","fontSize":9.5,"color":"#fff","align":"center","baseline":"middle"},"encoding":{"text":{"field":"t"}}},
{"data":{"name":"xlow"},"mark":{"type":"text","fontSize":9.5,"color":"#000","align":"left","baseline":"middle"},"encoding":{"text":{"field":"t"}}},
{"data":{"name":"logo"},"mark":{"type":"rect","color":"#3a3a3a","opacity":0.78},"encoding":{"x2":{"field":"x2"},"y2":{"field":"p2"}}},
{"data":{"name":"gear"},"mark":{"type":"point","shape":"circle","size":850,"filled":false,"stroke":"#e8e8e8","strokeWidth":5,"strokeDash":[5,4],"opacity":1}},
{"data":{"name":"gear"},"mark":{"type":"point","shape":"circle","size":400,"filled":false,"stroke":"#e8e8e8","strokeWidth":6,"opacity":1}},
{"data":{"name":"logo1"},"mark":{"type":"text","font":"Open Sans","fontSize":28,"color":"#f0f0f0","align":"left","baseline":"middle","opacity":0.9},"encoding":{"text":{"field":"t"}}},
{"data":{"name":"logo2"},"mark":{"type":"text","fontSize":12,"color":"#c8c8c8","align":"left","baseline":"middle"},"encoding":{"text":{"field":"t"}}}
]}
